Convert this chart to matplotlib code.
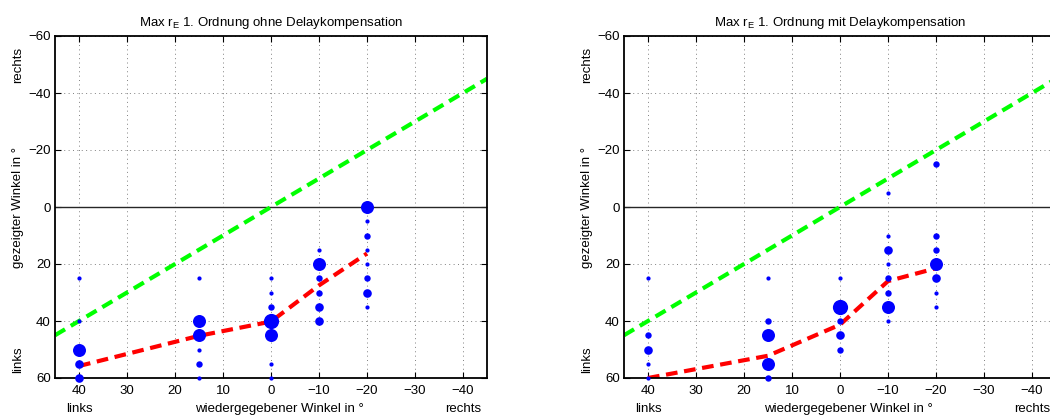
import matplotlib
matplotlib.use("Agg")
import matplotlib.pyplot as plt
import numpy as np

plt.rcParams['font.family'] = ['Liberation Sans', 'DejaVu Sans']
plt.rcParams['mathtext.fontset'] = 'custom'
plt.rcParams['mathtext.rm'] = 'Liberation Sans'
plt.rcParams['mathtext.it'] = 'Liberation Sans'
plt.rcParams['axes.unicode_minus'] = True

# wiedergegebene Winkel (x) der Mittelwertkurve
angles = [40, 15, 0, -10, -20]

# ohne Delaykompensation: Antworten (x, y) und Anzahl
ohne_x = [40, 40, 40, 40, 40,
          15, 15, 15, 15, 15, 15,
          0, 0, 0, 0, 0, 0, 0,
          -10, -10, -10, -10, -10, -10,
          -20, -20, -20, -20, -20, -20, -20, -20]
ohne_y = [25, 40, 50, 55, 60,
          25, 40, 45, 50, 55, 60,
          25, 30, 35, 40, 45, 55, 60,
          15, 20, 25, 30, 35, 40,
          0, 5, 10, 15, 20, 25, 30, 35]
ohne_n = [1, 1, 5, 3, 3,
          1, 5, 5, 1, 2, 1,
          1, 1, 2, 6, 5, 1, 1,
          1, 5, 2, 2, 3, 3,
          5, 1, 2, 1, 1, 2, 3, 1]
ohne_mean = [55.8, 45.2, 40.2, 27.5, 16.3]

# mit Delaykompensation
mit_x = [40, 40, 40, 40, 40,
         15, 15, 15, 15, 15,
         0, 0, 0, 0, 0,
         -10, -10, -10, -10, -10, -10, -10, -10,
         -20, -20, -20, -20, -20, -20, -20]
mit_y = [25, 45, 50, 55, 60,
         25, 40, 45, 55, 60,
         25, 35, 40, 45, 50,
         -5, 10, 15, 20, 25, 30, 35, 40,
         -15, 10, 15, 20, 25, 30, 35]
mit_n = [1, 2, 3, 1, 1,
         1, 2, 5, 5, 2,
         1, 6, 2, 3, 2,
         1, 1, 3, 1, 2, 2, 5, 1,
         2, 2, 2, 5, 3, 1, 1]
mit_mean = [60.0, 52.2, 41.3, 26.0, 21.5]

titles = ['Max r$_\\mathrm{E}$ 1. Ordnung ohne Delaykompensation',
          'Max r$_\\mathrm{E}$ 1. Ordnung mit Delaykompensation']
xticks = [40, 30, 20, 10, 0, -10, -20, -30, -40]
yticks = [-60, -40, -20, 0, 20, 40, 60]

W, H = 1050, 416
fig = plt.figure(figsize=(W / 100, H / 100), dpi=100)

panels = [(ohne_x, ohne_y, ohne_n, ohne_mean, 55),
          (mit_x, mit_y, mit_n, mit_mean, 624)]

for i, (px, py, pn, pmean, left) in enumerate(panels):
    ax = fig.add_axes([left / W, 1 - 378 / H, 432 / W, 342 / H])
    ax.set_xlim(45, -45)
    ax.set_ylim(60, -60)
    ax.set_xticks(xticks)
    ax.set_yticks(yticks)
    ax.grid(True, color='0.5', linestyle=(0, (1, 3.5)), linewidth=0.7)
    ax.set_axisbelow(True)
    ax.tick_params(direction='in', top=True, right=True, length=4,
                   labelsize=9.5, width=0.8)
    ax.tick_params(axis='x', pad=5)
    ax.tick_params(axis='y', pad=3)
    for s in ax.spines.values():
        s.set_linewidth(1.3)

    ax.axhline(0, color='0.15', lw=1.0, zorder=1.5)
    diag = np.array([45, -45])
    ax.plot(diag, diag, color='#00ff00', lw=3, dashes=(2.8, 1.6), zorder=2)
    ax.plot(angles, pmean, color='#ff0000', lw=3, dashes=(2.8, 1.6), zorder=2)

    for x, y, n in zip(px, py, pn):
        d = 2 + 2.2 * n
        ax.plot(x, y, 'o', color='#0000ff', ms=d * 0.72, mew=0, zorder=3,
                clip_on=False)

    ax.set_title(titles[i], fontsize=9.5, pad=7)

    # Achsenbeschriftungen
    ax.text(-1.7, -0.09, 'wiedergegebener Winkel in °', fontsize=9.5,
            ha='center', va='center', transform=ax.get_xaxis_transform())
    ax.text(40, -0.09, 'links', fontsize=9.5, ha='center', va='center',
            transform=ax.get_xaxis_transform())
    ax.text(-40, -0.09, 'rechts', fontsize=9.5, ha='center', va='center',
            transform=ax.get_xaxis_transform())
    ax.text(-0.086, 0.5, 'gezeigter Winkel in °', fontsize=9.5, rotation=90,
            ha='center', va='center', transform=ax.transAxes)
    ax.text(-0.086, -50, 'rechts', fontsize=9.5, rotation=90,
            ha='center', va='center', transform=ax.get_yaxis_transform())
    ax.text(-0.086, 53.5, 'links', fontsize=9.5, rotation=90,
            ha='center', va='center', transform=ax.get_yaxis_transform())

fig.savefig('out.png', dpi=100)
